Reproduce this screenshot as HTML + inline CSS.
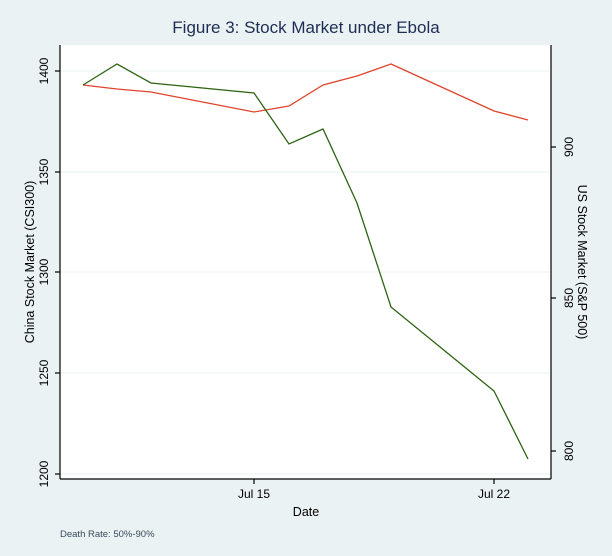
<!DOCTYPE html>
<html><head><meta charset="utf-8"><style>
body{margin:0;background:#eaf2f3;}
svg{display:block;font-family:"Liberation Sans",sans-serif;}
</style></head><body>
<svg width="612" height="556" viewBox="0 0 612 556">
<rect width="612" height="556" fill="#eaf2f3"/>
<text x="306" y="33" text-anchor="middle" font-size="17" fill="#1e2d53">Figure 3: Stock Market under Ebola</text>
<rect x="60" y="45" width="491" height="434" fill="#fff"/>
<g stroke="#eaf2f3" stroke-width="1">
<line x1="60" y1="71" x2="551" y2="71"/><line x1="60" y1="172" x2="551" y2="172"/>
<line x1="60" y1="272" x2="551" y2="272"/><line x1="60" y1="373" x2="551" y2="373"/>
<line x1="60" y1="474" x2="551" y2="474"/>
</g>
<g stroke="#000" stroke-width="1.2" fill="none">
<line x1="60" y1="45" x2="60" y2="479"/><line x1="60" y1="479" x2="551" y2="479"/>
<line x1="551" y1="45" x2="551" y2="479"/>
<line x1="55" y1="71" x2="60" y2="71"/><line x1="55" y1="172" x2="60" y2="172"/><line x1="55" y1="272" x2="60" y2="272"/><line x1="55" y1="373" x2="60" y2="373"/><line x1="55" y1="474" x2="60" y2="474"/>
<line x1="551" y1="147" x2="556" y2="147"/><line x1="551" y1="298" x2="556" y2="298"/><line x1="551" y1="451" x2="556" y2="451"/>
<line x1="254" y1="479" x2="254" y2="484"/><line x1="494" y1="479" x2="494" y2="484"/>
</g>
<g font-size="12" fill="#000" text-anchor="middle">
<text transform="translate(48,71) rotate(-90)">1400</text>
<text transform="translate(48,172) rotate(-90)">1350</text>
<text transform="translate(48,272) rotate(-90)">1300</text>
<text transform="translate(48,373) rotate(-90)">1250</text>
<text transform="translate(48,474) rotate(-90)">1200</text>
<text transform="translate(573,147) rotate(-90)">900</text>
<text transform="translate(573,298) rotate(-90)">850</text>
<text transform="translate(573,451) rotate(-90)">800</text>
<text x="254" y="498">Jul 15</text><text x="494" y="498">Jul 22</text>
<text x="306" y="516" font-size="12.5">Date</text>
<text transform="translate(34,262) rotate(-90)" font-size="12.5">China Stock Market (CSI300)</text>
<text transform="translate(578,262) rotate(90)" font-size="12.5">US Stock Market (S&amp;P 500)</text>
</g>
<text x="60" y="537" font-size="9.5" fill="#3a4a5a">Death Rate: 50%-90%</text>
<polyline fill="none" stroke="#e0442c" stroke-width="1.3" points="83,85 117,89 151,92 254,112 289,106 323,85 357,76 391,64 494,111 528,120"/>
<polyline fill="none" stroke="#2d6414" stroke-width="1.3" points="83,85 117,64 151,83 254,93 289,144 323,129 357,203 391,307 494,391 528,459"/>
</svg>
</body></html>
